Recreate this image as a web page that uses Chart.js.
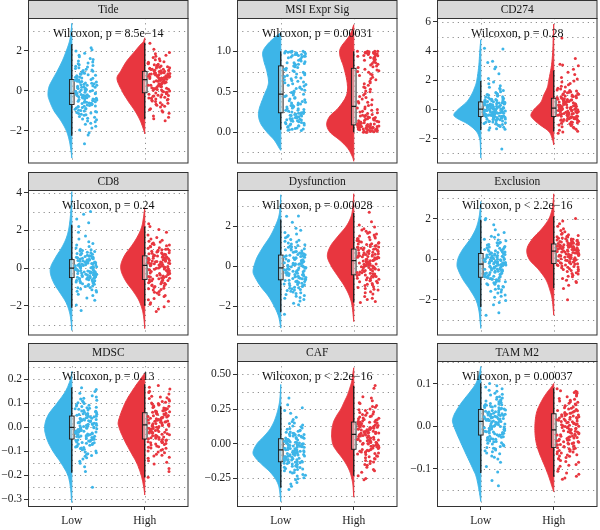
<!DOCTYPE html>
<html><head><meta charset="utf-8">
<script src="https://cdn.jsdelivr.net/npm/chart.js@4.4.1/dist/chart.umd.min.js"></script>
<style>
html,body{margin:0;padding:0;background:#fff;width:600px;height:530px;overflow:hidden;position:relative;}
canvas{position:absolute;}
</style></head><body>
<script>
// ---------------- DATA ----------------
const categories = ['Low', 'High'];
const panelTitles = ['Tide', 'MSI Expr Sig', 'CD274', 'CD8', 'Dysfunction', 'Exclusion', 'MDSC', 'CAF', 'TAM M2'];
const pTexts = ['Wilcoxon, p = 8.5e\u221214', 'Wilcoxon, p = 0.00031', 'Wilcoxon, p = 0.28',
  'Wilcoxon, p = 0.24', 'Wilcoxon, p = 0.00028', 'Wilcoxon, p < 2.2e\u221216',
  'Wilcoxon, p = 0.13', 'Wilcoxon, p < 2.2e\u221216', 'Wilcoxon, p = 0.00037'];
const yTickValues = [[-2, 0, 2], [0, 0.5, 1], [-2, 0, 2, 4, 6], [-2, 0, 2, 4], [-2, 0, 2], [-2, 0, 2],
  [-0.3, -0.2, -0.1, 0, 0.1, 0.2], [-0.25, 0, 0.25, 0.5], [-0.1, 0, 0.1]];
const yTickDecimals = [0, 1, 0, 0, 0, 0, 1, 2, 1];
const yLimits = [[-3.64, 3.64], [-0.388, 1.413], [-3.70, 6.27], [-3.57, 4.14], [-3.47, 3.82], [-3.76, 3.41],
  [-0.333, 0.277], [-0.456, 0.596], [-0.19, 0.153]];

// box stats: [lower whisker, Q1, median, Q3, upper whisker]
const boxLow = [[-2.25, -0.69, -0.13, 0.56, 2.33], [0.03, 0.24, 0.47, 0.82, 1.0], [-1.41, -0.48, 0.02, 0.52, 1.95],
  [-2.1, -0.5, 0.0, 0.45, 2.3], [-2.31, -0.68, -0.08, 0.56, 2.34], [-2.36, -0.89, -0.24, 0.28, 1.95],
  [-0.19, -0.049, 0.0, 0.047, 0.166], [-0.317, -0.13, -0.045, 0.036, 0.27], [-0.11, -0.021, 0.011, 0.039, 0.101]];
const boxHigh = [[-1.42, -0.10, 0.56, 0.97, 2.40], [0.0, 0.09, 0.32, 0.79, 1.0], [-1.5, -0.48, 0.09, 0.77, 2.67],
  [-2.0, -0.6, 0.15, 0.65, 2.2], [-1.82, -0.43, 0.28, 0.86, 2.67], [-1.43, -0.21, 0.40, 0.75, 2.11],
  [-0.21, -0.049, 0.01, 0.061, 0.18], [-0.23, -0.04, 0.068, 0.156, 0.417], [-0.119, -0.05, -0.009, 0.029, 0.089]];

// half-violin density profiles: [value, density]
const tideLowDens = [[-3.37,0],[-3,0.8],[-2.5,2.5],[-2,5.5],[-1.5,11],[-1,18],[-0.5,22.5],[-0.2,24],[0.2,23],[0.6,19],[1,14.5],[1.5,9.5],[2,5.5],[2.5,2.2],[3,0.7],[3.37,0]];
const tideHighDens = [[-2.16,0],[-2,0.8],[-1.5,4.5],[-1,10],[-0.5,17],[0,23],[0.6,28],[1,24],[1.5,18],[2,9.5],[2.3,4.5],[2.45,1.5],[2.65,0]];
const msiLowDens = [[-0.225,0],[-0.2,1.5],[-0.1,6.5],[0,14],[0.1,20],[0.2,22.5],[0.3,21.5],[0.45,17],[0.6,12.5],[0.75,14],[0.9,17.5],[1.0,18],[1.1,12.5],[1.2,3.5],[1.23,0]];
const msiHighDens = [[-0.36,0],[-0.3,1.5],[-0.2,6],[-0.1,14],[0,24],[0.1,27.3],[0.2,24],[0.3,15.5],[0.45,7.5],[0.6,6.5],[0.8,10],[0.95,14],[1.05,13],[1.2,4],[1.33,0]];
const cd274LowDens = [[-3.33,0],[-2.5,0.4],[-2,1.2],[-1.5,4.5],[-1,13],[-0.6,24],[-0.35,27.2],[0,23],[0.5,14.5],[1,9.5],[1.5,6.2],[2,4],[3,2],[4,1],[4.78,0]];
const cd274HighDens = [[-2.43,0],[-2,1.5],[-1.5,5],[-1,15],[-0.6,21.5],[-0.35,23],[0,20],[0.5,13],[1,10],[1.5,6.5],[2,5],[3,2.3],[4,1],[5,0.5],[5.85,0]];
const cd8LowDens = [[-3.3,0],[-2.8,0.8],[-2.3,2.5],[-1.8,6],[-1.3,12],[-0.8,18],[-0.3,21.5],[0.1,21],[0.6,16],[1.1,10],[1.6,5.5],[2.1,3],[2.7,1.5],[3.4,0.6],[4.05,0]];
const cd8HighDens = [[-3.2,0],[-2.7,0.8],[-2.2,2.5],[-1.7,6],[-1.2,12],[-0.7,19],[-0.2,23.5],[0.2,24],[0.7,20],[1.2,13],[1.7,7],[2.2,3],[2.7,1.2],[3.2,0]];
const dysLowDens = [[-3.1,0],[-2.5,2.3],[-2,6.7],[-1.5,12.5],[-1,20.5],[-0.5,26.5],[-0.25,28],[0.1,26.5],[0.5,23.4],[1,17.4],[1.5,10.7],[2,5.7],[2.5,2],[3,0.7],[3.58,0]];
const dysHighDens = [[-2.77,0],[-2,1.6],[-1.5,4.3],[-1,9.3],[-0.5,16],[0,22.6],[0.5,26.6],[1,23.6],[1.5,16],[2,7.6],[2.5,2.6],[3,0.9],[3.63,0]];
const exclLowDens = [[-3.41,0],[-3,0.8],[-2.5,2],[-2,5],[-1.5,11],[-1,18],[-0.5,23],[-0.25,24],[0.1,22.5],[0.5,18],[1,10.5],[1.5,5],[2,2],[2.5,0.6],[2.84,0]];
const exclHighDens = [[-2.76,0],[-2,1.5],[-1.5,4],[-1,8],[-0.5,15.5],[0,24.8],[0.5,27],[1,21.5],[1.5,12],[2,4.8],[2.5,1.5],[2.9,0.5],[3.22,0]];
const mdscLowDens = [[-0.314,0],[-0.3,0.4],[-0.25,1.4],[-0.2,4],[-0.15,10.7],[-0.1,19],[-0.05,25],[0,27.4],[0.05,24],[0.1,15],[0.15,6.4],[0.2,1.4],[0.233,0]];
const mdscHighDens = [[-0.283,0],[-0.25,1],[-0.2,3.6],[-0.15,8],[-0.1,14.6],[-0.05,21],[0,26],[0.03,26.3],[0.1,20],[0.15,13],[0.2,4.6],[0.226,0]];
const cafLowDens = [[-0.417,0],[-0.35,1],[-0.3,2.3],[-0.25,5.7],[-0.2,11.4],[-0.15,19],[-0.1,25.7],[-0.06,28],[0,24],[0.05,17.4],[0.1,11.4],[0.15,7.4],[0.2,4.7],[0.25,2.7],[0.3,1.3],[0.36,0.5],[0.427,0]];
const cafHighDens = [[-0.385,0],[-0.3,0.8],[-0.25,2],[-0.2,4],[-0.15,7.4],[-0.1,12],[-0.05,17.4],[0,21.3],[0.08,22.3],[0.15,20.7],[0.2,17.4],[0.25,13],[0.3,9.7],[0.35,6.4],[0.4,4],[0.45,2],[0.5,1],[0.547,0]];
const tamLowDens = [[-0.177,0],[-0.15,1.8],[-0.12,4.5],[-0.1,8],[-0.05,18],[0,27.2],[0.02,28],[0.05,21],[0.08,11],[0.1,5],[0.12,1.8],[0.14,0]];
const tamHighDens = [[-0.154,0],[-0.14,2],[-0.12,4.8],[-0.1,8],[-0.05,16.5],[-0.01,19],[0.03,17.5],[0.06,12],[0.08,6.5],[0.09,3],[0.1,0]];

// jittered observations
const tideLow = [-0.15,-0.17,-0.20,-0.22,-0.25,-0.27,-0.30,-0.33,-0.35,-0.38,-0.41,-0.44,-0.46,-0.50,-0.52,-0.55,-0.58,-0.61,-0.64,-0.68,-0.71,-0.74,-0.78,-0.81,-0.84,-0.89,-0.93,-0.97,-1.01,-1.06,-1.11,-1.17,-1.23,-1.29,-1.37,-1.45,-1.55,-1.67,-1.86,-2.21,
 -0.11,-0.08,-0.05,-0.02,0.01,0.04,0.08,0.11,0.15,0.18,0.22,0.25,0.28,0.32,0.35,0.39,0.42,0.46,0.50,0.54,0.58,0.62,0.67,0.71,0.75,0.80,0.85,0.90,0.95,1.01,1.07,1.15,1.22,1.30,1.39,1.49,1.61,1.77,1.99,2.15,-2.65,
 -0.14,-0.19,-0.24,-0.29,-0.31,-0.36,-0.40,-0.43,-0.48,-0.53,-0.57,-0.62,-0.66,-0.70,-0.76,-0.79,-0.86,-0.91,-0.99,-1.04,-1.09,-1.14,-1.20,-1.33,-1.41,-1.51,-1.62,-1.78,-1.97,-2.10,
 -0.09,-0.03,0.02,0.06,0.13,0.17,0.20,0.27,0.30,0.37,0.44,0.48,0.52,0.56,0.64,0.69,0.77,0.83,0.88,0.98,1.04,1.11,1.19,1.26,1.35,1.44,1.56,1.70,1.88,2.05];
const tideHigh = [0.54,0.51,0.48,0.45,0.42,0.39,0.35,0.32,0.30,0.27,0.23,0.20,0.17,0.13,0.10,0.06,0.03,-0.01,-0.05,-0.09,-0.13,-0.17,-0.20,-0.24,-0.28,-0.33,-0.38,-0.43,-0.48,-0.54,-0.60,-0.67,-0.73,-0.81,-0.90,-1.00,-1.12,-1.26,-1.40,-1.50,
 0.57,0.59,0.61,0.63,0.65,0.66,0.69,0.71,0.72,0.74,0.77,0.79,0.80,0.83,0.85,0.87,0.89,0.91,0.94,0.96,0.99,1.01,1.04,1.06,1.08,1.12,1.15,1.18,1.21,1.24,1.28,1.32,1.37,1.45,1.55,1.66,1.78,1.92,2.08,2.38,
 0.55,0.50,0.46,0.41,0.37,0.33,0.28,0.25,0.21,0.15,0.11,0.08,0.04,-0.03,-0.07,-0.11,-0.15,-0.22,-0.26,-0.31,-0.36,-0.41,-0.46,-0.51,-0.63,-0.70,-0.77,-0.95,-1.06,-1.33,
 0.58,0.60,0.62,0.64,0.68,0.70,0.73,0.75,0.78,0.82,0.84,0.86,0.88,0.90,0.93,0.97,1.00,1.03,1.07,1.10,1.14,1.20,1.26,1.30,1.35,1.42,1.50,1.60,1.72,1.85];
const msiLow = [1.0,1.0,0.99,0.99,0.98,0.98,0.97,0.97,0.96,0.95,0.94,0.93,0.92,0.90,0.89,0.87,0.86,0.85,0.84,0.83,
 0.81,0.79,0.77,0.76,0.74,0.72,0.70,0.68,0.67,0.65,0.63,0.61,0.60,0.58,0.56,0.55,0.53,0.51,0.50,0.48,
 0.46,0.45,0.43,0.42,0.40,0.39,0.37,0.36,0.35,0.34,0.33,0.32,0.31,0.30,0.29,0.28,0.27,0.26,0.25,0.245,
 0.23,0.22,0.21,0.20,0.19,0.18,0.17,0.16,0.15,0.14,0.13,0.12,0.11,0.10,0.09,0.08,0.07,0.05,0.04,0.03,
 1.0,0.99,0.98,0.97,0.96,0.96,0.95,0.94,0.93,0.91,0.88,0.86,0.84,0.82,0.80,0.78,0.75,0.73,0.71,0.69,0.66,0.64,0.62,0.59,0.57,0.54,0.52,0.49,
 0.47,0.44,0.41,0.38,0.36,0.33,0.31,0.29,0.27,0.25,0.24,0.235,0.225,0.215,0.205,0.195,0.185,0.175,0.165,0.155,0.145,0.135,0.12,0.105,0.09,0.075,0.06,0.045,0.035,0.025,0.02,0.995];
const msiHigh = [0.0,0.0,0.01,0.01,0.02,0.02,0.03,0.03,0.04,0.04,0.05,0.05,0.06,0.06,0.07,0.07,0.08,0.08,0.085,0.09,
 0.10,0.10,0.11,0.12,0.12,0.13,0.14,0.15,0.16,0.17,0.18,0.19,0.20,0.21,0.22,0.24,0.25,0.27,0.29,0.31,
 0.34,0.36,0.38,0.41,0.43,0.46,0.48,0.51,0.53,0.56,0.58,0.61,0.63,0.65,0.68,0.70,0.72,0.74,0.76,0.78,
 0.80,0.82,0.84,0.86,0.88,0.89,0.90,0.92,0.93,0.94,0.95,0.96,0.97,0.97,0.98,0.98,0.99,0.99,1.0,1.0,
 0.0,0.005,0.01,0.015,0.02,0.025,0.03,0.035,0.04,0.045,0.05,0.055,0.06,0.065,0.07,0.075,0.08,0.09,
 0.095,0.105,0.115,0.125,0.135,0.145,0.155,0.165,0.18,0.195,0.21,0.23,0.26,0.28,0.30,
 0.33,0.37,0.40,0.44,0.50,0.55,0.60,0.66,0.71,0.75,0.77,
 0.81,0.83,0.85,0.87,0.91,0.925,0.945,0.955,0.965,0.975,0.985,0.99,0.995,1.0,1.0,0.98];
const cd274Low = [0.01,-0.02,-0.04,-0.06,-0.08,-0.11,-0.14,-0.16,-0.18,-0.20,-0.23,-0.25,-0.28,-0.31,-0.33,-0.36,-0.38,-0.41,-0.44,-0.47,-0.50,-0.53,-0.56,-0.59,-0.62,-0.65,-0.69,-0.73,-0.76,-0.81,-0.85,-0.91,-0.96,-1.02,-1.08,-1.16,-1.25,-1.32,-1.40,-2.70,
 0.05,0.08,0.10,0.12,0.14,0.17,0.20,0.22,0.24,0.26,0.29,0.31,0.34,0.37,0.39,0.42,0.44,0.47,0.50,0.53,0.56,0.59,0.62,0.65,0.68,0.72,0.77,0.82,0.88,0.95,1.02,1.12,1.22,1.37,1.52,1.77,2.12,2.92,3.22,4.15,4.2,
 0.0,-0.03,-0.07,-0.10,-0.13,-0.15,-0.19,-0.22,-0.26,-0.29,-0.32,-0.35,-0.39,-0.42,-0.45,-0.48,-0.52,-0.55,-0.58,-0.63,-0.67,-0.71,-0.78,-0.83,-0.88,-0.94,-1.00,-1.12,-1.21,-1.35,
 0.04,0.07,0.11,0.15,0.19,0.23,0.27,0.30,0.33,0.38,0.41,0.46,0.51,0.55,0.60,0.66,0.70,0.75,0.85,0.92,0.99,1.07,1.17,1.30,1.45,1.62,1.88,2.45,2.8,3.3];
const cd274High = [0.07,0.05,0.02,0.0,-0.03,-0.05,-0.09,-0.11,-0.14,-0.17,-0.20,-0.22,-0.25,-0.28,-0.31,-0.34,-0.37,-0.40,-0.44,-0.47,-0.51,-0.54,-0.57,-0.61,-0.64,-0.68,-0.73,-0.77,-0.81,-0.86,-0.91,-0.97,-1.03,-1.10,-1.18,-1.26,-1.36,-1.49,-1.55,-1.62,
 0.11,0.14,0.17,0.20,0.23,0.26,0.30,0.33,0.36,0.39,0.43,0.46,0.49,0.53,0.56,0.60,0.63,0.67,0.71,0.75,0.79,0.83,0.87,0.91,0.95,1.00,1.05,1.10,1.15,1.21,1.27,1.34,1.41,1.54,1.69,1.89,2.09,2.39,2.99,3.49,4.9,
 0.08,0.04,0.01,-0.02,-0.06,-0.10,-0.13,-0.16,-0.19,-0.24,-0.27,-0.30,-0.35,-0.39,-0.42,-0.46,-0.49,-0.53,-0.56,-0.60,-0.63,-0.66,-0.70,-0.75,-0.80,-0.88,-0.95,-1.06,-1.22,-1.42,
 0.12,0.16,0.22,0.25,0.29,0.35,0.41,0.45,0.51,0.55,0.62,0.69,0.73,0.81,0.89,0.93,1.02,1.08,1.18,1.24,1.31,1.45,1.60,1.78,1.95,2.2,2.55,2.75,3.05,3.1];
const cd8Low = [-0.01,-0.04,-0.06,-0.08,-0.10,-0.13,-0.16,-0.18,-0.20,-0.22,-0.25,-0.27,-0.30,-0.33,-0.35,-0.38,-0.40,-0.43,-0.46,-0.49,-0.52,-0.55,-0.58,-0.61,-0.64,-0.67,-0.71,-0.75,-0.78,-0.83,-0.87,-0.93,-0.98,-1.04,-1.10,-1.18,-1.27,-1.38,-1.70,-2.25,
 0.01,0.03,0.05,0.07,0.09,0.11,0.14,0.16,0.18,0.20,0.23,0.25,0.27,0.29,0.31,0.34,0.36,0.39,0.42,0.44,0.47,0.50,0.52,0.55,0.58,0.61,0.64,0.68,0.71,0.75,0.79,0.84,0.88,0.94,1.00,1.15,1.30,1.70,2.20,2.60,3.0,
 -0.02,-0.05,-0.09,-0.12,-0.15,-0.19,-0.23,-0.26,-0.29,-0.32,-0.36,-0.39,-0.42,-0.45,-0.48,-0.51,-0.54,-0.57,-0.63,-0.69,-0.73,-0.80,-0.85,-0.95,-1.02,-1.14,-1.23,-1.45,-1.58,-1.95,
 0.02,0.04,0.08,0.12,0.15,0.19,0.22,0.26,0.30,0.33,0.37,0.41,0.45,0.49,0.54,0.57,0.63,0.66,0.73,0.77,0.82,0.91,0.97,1.07,1.22,1.40,1.55,1.90,2.40,2.85];
const cd8High = [0.13,0.09,0.06,0.03,-0.01,-0.04,-0.08,-0.12,-0.15,-0.18,-0.23,-0.26,-0.29,-0.34,-0.37,-0.42,-0.45,-0.49,-0.54,-0.58,-0.63,-0.67,-0.72,-0.76,-0.80,-0.86,-0.92,-0.97,-1.03,-1.09,-1.16,-1.24,-1.32,-1.40,-1.50,-1.61,-1.75,-1.91,-2.16,-2.30,
 0.16,0.19,0.21,0.23,0.25,0.28,0.31,0.33,0.35,0.37,0.40,0.42,0.45,0.48,0.50,0.53,0.55,0.58,0.61,0.64,0.67,0.70,0.73,0.76,0.79,0.82,0.86,0.90,0.93,0.98,1.02,1.08,1.13,1.19,1.25,1.33,1.42,1.55,1.75,2.05,2.35,
 0.11,0.07,0.01,-0.03,-0.06,-0.10,-0.14,-0.20,-0.24,-0.28,-0.32,-0.39,-0.44,-0.47,-0.52,-0.56,-0.61,-0.65,-0.70,-0.78,-0.83,-0.89,-0.95,-1.06,-1.13,-1.28,-1.45,-1.68,-1.84,-2.05,
 0.17,0.20,0.24,0.27,0.30,0.34,0.38,0.41,0.44,0.47,0.52,0.57,0.60,0.63,0.69,0.72,0.78,0.81,0.88,0.95,1.00,1.05,1.16,1.22,1.29,1.38,1.48,1.62,1.90,2.20];
const dysLow = [-0.10,-0.12,-0.15,-0.18,-0.20,-0.23,-0.27,-0.29,-0.32,-0.35,-0.38,-0.41,-0.44,-0.47,-0.50,-0.53,-0.56,-0.60,-0.63,-0.67,-0.70,-0.74,-0.77,-0.81,-0.85,-0.89,-0.93,-0.98,-1.02,-1.08,-1.13,-1.19,-1.25,-1.33,-1.41,-1.50,-1.60,-1.74,-1.93,-2.40,
 -0.06,-0.03,0.0,0.02,0.05,0.08,0.12,0.15,0.18,0.21,0.24,0.27,0.30,0.34,0.37,0.40,0.43,0.47,0.51,0.55,0.59,0.62,0.66,0.70,0.74,0.78,0.83,0.88,0.93,0.98,1.04,1.11,1.17,1.25,1.34,1.43,1.54,1.69,1.90,2.20,2.50,2.52,
 -0.09,-0.14,-0.17,-0.22,-0.25,-0.31,-0.34,-0.40,-0.43,-0.49,-0.52,-0.58,-0.62,-0.65,-0.72,-0.76,-0.83,-0.87,-0.91,-0.96,-1.05,-1.10,-1.16,-1.22,-1.29,-1.37,-1.46,-1.56,-1.67,-1.85,
 -0.04,-0.01,0.04,0.07,0.10,0.13,0.17,0.20,0.26,0.29,0.32,0.36,0.42,0.45,0.49,0.53,0.57,0.64,0.68,0.72,0.81,0.86,0.95,1.01,1.08,1.21,1.30,1.48,1.62,1.80];
const dysHigh = [0.26,0.23,0.20,0.16,0.13,0.10,0.06,0.03,0.0,-0.04,-0.08,-0.11,-0.14,-0.18,-0.21,-0.26,-0.29,-0.33,-0.37,-0.41,-0.46,-0.50,-0.54,-0.58,-0.62,-0.68,-0.73,-0.78,-0.83,-0.90,-0.96,-1.03,-1.11,-1.19,-1.28,-1.39,-1.52,-1.67,-1.77,-1.82,
 0.30,0.32,0.35,0.37,0.40,0.43,0.46,0.49,0.51,0.54,0.57,0.60,0.62,0.66,0.68,0.72,0.74,0.78,0.81,0.85,0.88,0.92,0.95,0.99,1.02,1.06,1.11,1.15,1.19,1.24,1.29,1.36,1.42,1.48,1.56,1.65,1.75,1.88,2.07,2.23,2.7,
 0.27,0.22,0.18,0.15,0.11,0.08,0.05,0.01,-0.02,-0.06,-0.10,-0.16,-0.20,-0.24,-0.31,-0.35,-0.39,-0.44,-0.48,-0.52,-0.60,-0.65,-0.70,-0.75,-0.86,-0.93,-1.07,-1.15,-1.33,-1.60,
 0.29,0.34,0.39,0.42,0.45,0.48,0.53,0.56,0.59,0.64,0.70,0.76,0.80,0.83,0.90,0.94,0.97,1.04,1.09,1.13,1.22,1.27,1.33,1.39,1.45,1.52,1.61,1.70,1.82,1.97];
const exclLow = [-0.26,-0.29,-0.32,-0.35,-0.37,-0.40,-0.44,-0.47,-0.50,-0.53,-0.57,-0.60,-0.62,-0.66,-0.69,-0.73,-0.76,-0.80,-0.84,-0.87,-0.91,-0.95,-0.99,-1.03,-1.07,-1.11,-1.16,-1.21,-1.26,-1.32,-1.37,-1.44,-1.51,-1.58,-1.67,-1.77,-1.88,-2.03,-2.24,-2.64,-2.76,
 -0.22,-0.20,-0.18,-0.16,-0.13,-0.11,-0.08,-0.06,-0.03,-0.01,0.02,0.04,0.07,0.10,0.12,0.15,0.18,0.21,0.24,0.27,0.30,0.33,0.36,0.39,0.42,0.46,0.50,0.54,0.58,0.62,0.67,0.72,0.78,0.84,0.91,0.98,1.08,1.20,1.45,1.70,1.95,2.0,
 -0.25,-0.28,-0.31,-0.34,-0.39,-0.42,-0.45,-0.49,-0.52,-0.55,-0.59,-0.64,-0.68,-0.71,-0.75,-0.78,-0.82,-0.86,-0.89,-0.93,-0.97,-1.01,-1.05,-1.14,-1.24,-1.35,-1.48,-1.62,-1.83,-2.13,
 -0.23,-0.21,-0.19,-0.17,-0.14,-0.12,-0.10,-0.07,-0.04,0.0,0.03,0.06,0.09,0.13,0.17,0.20,0.23,0.26,0.31,0.35,0.41,0.44,0.48,0.56,0.60,0.70,0.81,0.95,1.13,1.32];
const exclHigh = [0.38,0.35,0.33,0.30,0.27,0.25,0.21,0.18,0.16,0.13,0.09,0.07,0.04,0.0,-0.03,-0.06,-0.09,-0.12,-0.16,-0.20,-0.23,-0.27,-0.31,-0.34,-0.38,-0.42,-0.47,-0.51,-0.56,-0.61,-0.67,-0.73,-0.79,-0.87,-0.95,-1.04,-1.15,-1.28,-1.45,-2.0,
 0.41,0.43,0.44,0.46,0.47,0.49,0.51,0.52,0.54,0.56,0.58,0.59,0.61,0.63,0.64,0.67,0.68,0.70,0.72,0.74,0.76,0.78,0.81,0.83,0.85,0.87,0.90,0.93,0.95,0.98,1.01,1.05,1.09,1.13,1.17,1.23,1.35,1.50,1.75,2.0,
 0.39,0.36,0.34,0.31,0.28,0.26,0.23,0.20,0.17,0.14,0.11,0.08,0.05,0.02,-0.01,-0.05,-0.08,-0.11,-0.14,-0.18,-0.22,-0.25,-0.29,-0.36,-0.40,-0.49,-0.58,-0.70,-0.84,-1.10,
 0.42,0.45,0.48,0.50,0.53,0.55,0.57,0.60,0.62,0.65,0.66,0.69,0.71,0.73,0.75,0.77,0.80,0.82,0.86,0.89,0.92,0.96,1.00,1.03,1.11,1.20,1.28,1.42,1.62,1.88];
const mdscLow = [-0.001,-0.004,-0.006,-0.008,-0.010,-0.012,-0.015,-0.017,-0.019,-0.021,-0.024,-0.026,-0.028,-0.031,-0.033,-0.036,-0.038,-0.041,-0.044,-0.047,-0.050,-0.053,-0.055,-0.058,-0.061,-0.065,-0.068,-0.072,-0.075,-0.080,-0.084,-0.089,-0.094,-0.099,-0.106,-0.113,-0.121,-0.132,-0.150,-0.185,-0.25,
 0.001,0.004,0.006,0.008,0.010,0.012,0.015,0.017,0.019,0.021,0.024,0.026,0.028,0.031,0.033,0.036,0.038,0.041,0.044,0.047,0.050,0.053,0.055,0.058,0.061,0.065,0.068,0.072,0.075,0.080,0.084,0.089,0.094,0.099,0.106,0.113,0.121,0.132,0.150,0.165,
 -0.002,-0.005,-0.009,-0.013,-0.016,-0.020,-0.023,-0.027,-0.030,-0.034,-0.037,-0.040,-0.043,-0.046,-0.051,-0.054,-0.057,-0.063,-0.067,-0.070,-0.077,-0.082,-0.087,-0.092,-0.103,-0.110,-0.118,-0.127,-0.142,-0.165,
 0.003,0.005,0.009,0.013,0.016,0.020,0.023,0.027,0.030,0.034,0.037,0.040,0.043,0.046,0.051,0.054,0.057,0.063,0.067,0.070,0.077,0.082,0.087,0.092,0.103,0.110,0.118,0.127,0.142,0.158];
const mdscHigh = [0.008,0.006,0.003,0.0,-0.002,-0.005,-0.008,-0.011,-0.014,-0.016,-0.020,-0.022,-0.025,-0.029,-0.031,-0.035,-0.037,-0.041,-0.044,-0.048,-0.051,-0.055,-0.058,-0.062,-0.065,-0.070,-0.074,-0.078,-0.083,-0.088,-0.093,-0.099,-0.106,-0.113,-0.120,-0.129,-0.140,-0.153,-0.172,-0.209,
 0.012,0.014,0.016,0.018,0.021,0.023,0.026,0.028,0.030,0.033,0.036,0.038,0.040,0.043,0.046,0.049,0.051,0.054,0.057,0.060,0.063,0.066,0.069,0.072,0.075,0.079,0.083,0.086,0.090,0.095,0.099,0.105,0.110,0.116,0.123,0.130,0.139,0.151,0.167,0.175,
 0.009,0.004,0.001,-0.004,-0.007,-0.010,-0.013,-0.018,-0.021,-0.024,-0.027,-0.033,-0.036,-0.039,-0.043,-0.046,-0.050,-0.053,-0.060,-0.064,-0.068,-0.072,-0.081,-0.086,-0.096,-0.103,-0.117,-0.125,-0.146,-0.185,
 0.011,0.015,0.019,0.022,0.025,0.029,0.031,0.035,0.039,0.042,0.045,0.048,0.053,0.056,0.059,0.062,0.065,0.068,0.071,0.077,0.081,0.088,0.093,0.097,0.102,0.108,0.120,0.127,0.145,0.160];
const cafLow = [-0.048,-0.051,-0.055,-0.059,-0.063,-0.066,-0.071,-0.075,-0.079,-0.083,-0.088,-0.092,-0.095,-0.100,-0.104,-0.109,-0.113,-0.118,-0.123,-0.128,-0.133,-0.138,-0.143,-0.148,-0.153,-0.160,-0.166,-0.172,-0.179,-0.186,-0.194,-0.203,-0.211,-0.221,-0.233,-0.245,-0.260,-0.279,-0.307,-0.330,
 -0.043,-0.039,-0.035,-0.032,-0.028,-0.025,-0.020,-0.016,-0.013,-0.009,-0.004,-0.001,0.003,0.008,0.011,0.016,0.020,0.025,0.029,0.034,0.039,0.044,0.049,0.053,0.058,0.064,0.070,0.076,0.082,0.089,0.097,0.105,0.113,0.123,0.134,0.146,0.160,0.19,0.22,0.26,0.28,0.33,
 -0.046,-0.053,-0.057,-0.061,-0.068,-0.073,-0.077,-0.081,-0.086,-0.090,-0.097,-0.102,-0.107,-0.111,-0.116,-0.121,-0.126,-0.131,-0.136,-0.141,-0.146,-0.156,-0.163,-0.169,-0.183,-0.190,-0.207,-0.227,-0.252,-0.290,
 -0.041,-0.037,-0.030,-0.026,-0.022,-0.018,-0.011,-0.007,-0.002,0.001,0.006,0.013,0.018,0.022,0.027,0.031,0.037,0.042,0.047,0.055,0.061,0.067,0.073,0.085,0.093,0.109,0.128,0.150,0.175,0.24];
const cafHigh = [0.065,0.060,0.055,0.050,0.046,0.041,0.034,0.030,0.025,0.020,0.014,0.009,0.004,-0.002,-0.007,-0.014,-0.018,-0.025,-0.031,-0.038,-0.044,-0.050,-0.057,-0.063,-0.070,-0.078,-0.086,-0.094,-0.102,-0.111,-0.121,-0.132,-0.143,-0.156,-0.170,-0.186,-0.206,-0.230,-0.250,-0.260,
 0.071,0.075,0.078,0.082,0.086,0.090,0.095,0.099,0.103,0.107,0.112,0.116,0.120,0.125,0.129,0.134,0.138,0.143,0.149,0.154,0.159,0.164,0.169,0.175,0.180,0.186,0.193,0.199,0.206,0.214,0.221,0.231,0.240,0.250,0.262,0.275,0.290,0.310,0.338,0.40,0.42,
 0.067,0.062,0.057,0.052,0.044,0.038,0.032,0.027,0.022,0.017,0.011,0.006,0.001,-0.004,-0.010,-0.016,-0.022,-0.028,-0.035,-0.041,-0.047,-0.054,-0.060,-0.067,-0.074,-0.090,-0.106,-0.126,-0.150,-0.195,
 0.073,0.077,0.080,0.084,0.088,0.093,0.097,0.101,0.105,0.110,0.114,0.118,0.122,0.127,0.131,0.136,0.141,0.146,0.151,0.157,0.162,0.172,0.183,0.196,0.210,0.225,0.245,0.268,0.295,0.33];
const tamLow = [0.010,0.009,0.007,0.006,0.004,0.003,0.001,0.0,-0.002,-0.003,-0.005,-0.007,-0.008,-0.010,-0.011,-0.013,-0.015,-0.017,-0.018,-0.020,-0.022,-0.024,-0.026,-0.028,-0.030,-0.032,-0.035,-0.037,-0.039,-0.042,-0.045,-0.048,-0.052,-0.056,-0.060,-0.065,-0.070,-0.077,-0.095,-0.108,-0.128,-0.14,
 0.012,0.013,0.014,0.016,0.017,0.018,0.020,0.021,0.022,0.023,0.025,0.026,0.028,0.029,0.031,0.032,0.033,0.035,0.037,0.038,0.040,0.042,0.043,0.045,0.047,0.049,0.051,0.053,0.055,0.057,0.060,0.063,0.066,0.069,0.073,0.077,0.082,0.088,0.095,0.100,
 0.011,0.008,0.005,0.002,0.0,-0.001,-0.004,-0.006,-0.009,-0.012,-0.014,-0.016,-0.019,-0.021,-0.023,-0.025,-0.027,-0.029,-0.031,-0.033,-0.036,-0.040,-0.043,-0.046,-0.050,-0.054,-0.058,-0.063,-0.073,-0.085,
 0.012,0.014,0.015,0.017,0.018,0.019,0.021,0.022,0.024,0.025,0.027,0.028,0.030,0.032,0.034,0.036,0.039,0.041,0.044,0.046,0.048,0.050,0.052,0.056,0.059,0.062,0.068,0.075,0.084,0.092];
const tamHigh = [-0.010,-0.012,-0.014,-0.016,-0.018,-0.019,-0.022,-0.024,-0.025,-0.027,-0.030,-0.032,-0.033,-0.036,-0.038,-0.040,-0.042,-0.044,-0.047,-0.049,-0.052,-0.054,-0.057,-0.059,-0.061,-0.065,-0.068,-0.071,-0.074,-0.077,-0.081,-0.085,-0.090,-0.094,-0.100,-0.106,-0.113,-0.118,-0.122,-0.125,
 -0.008,-0.006,-0.005,-0.003,-0.001,0.001,0.003,0.004,0.006,0.008,0.010,0.012,0.013,0.016,0.017,0.020,0.021,0.023,0.026,0.028,0.030,0.032,0.035,0.037,0.039,0.042,0.045,0.048,0.050,0.054,0.057,0.061,0.065,0.069,0.074,0.077,0.079,0.080,0.083,0.088,
 -0.011,-0.013,-0.015,-0.017,-0.020,-0.021,-0.023,-0.026,-0.028,-0.029,-0.031,-0.034,-0.035,-0.037,-0.039,-0.041,-0.043,-0.046,-0.048,-0.051,-0.053,-0.056,-0.060,-0.063,-0.067,-0.070,-0.076,-0.083,-0.092,-0.110,
 -0.007,-0.004,-0.002,0.0,0.002,0.005,0.007,0.009,0.011,0.014,0.015,0.018,0.019,0.022,0.024,0.025,0.027,0.029,0.031,0.033,0.036,0.040,0.043,0.047,0.052,0.056,0.059,0.063,0.071,0.082];

const pointSets = [[tideLow, tideHigh], [msiLow, msiHigh], [cd274Low, cd274High], [cd8Low, cd8High], [dysLow, dysHigh],
  [exclLow, exclHigh], [mdscLow, mdscHigh], [cafLow, cafHigh], [tamLow, tamHigh]];
const densSets = [[tideLowDens, tideHighDens], [msiLowDens, msiHighDens], [cd274LowDens, cd274HighDens], [cd8LowDens, cd8HighDens],
  [dysLowDens, dysHighDens], [exclLowDens, exclHighDens], [mdscLowDens, mdscHighDens], [cafLowDens, cafHighDens], [tamLowDens, tamHighDens]];

// ---------------- STYLE / LAYOUT ----------------
const COLORS = ['#3db5e8', '#e8363f'];
const FONT = "'Liberation Serif', 'DejaVu Serif', serif";
const colCanvasLeft = [0, 197, 397], axisW = [28, 40, 40], plotW = 162;
const rowTop = [0, 172, 343], stripH = 18, plotH = [147, 147, 146], xAxisH = [0, 0, 24];
const DENS_PX_PER_UNIT = 73.64;

function jitter(i, g) {
  const s = Math.sin((i + 1) * 12.9898 + g * 78.233) * 43758.5453;
  return s - Math.floor(s);
}
function smoothProfile(pts, n) {
  const out = [];
  for (let i = 0; i < pts.length - 1; i++) {
    const p0 = pts[Math.max(i - 1, 0)], p1 = pts[i], p2 = pts[i + 1], p3 = pts[Math.min(i + 2, pts.length - 1)];
    for (let s = 0; s < n; s++) {
      const t = s / n, t2 = t * t, t3 = t2 * t;
      const f = (a, b, c, d) => 0.5 * ((2 * b) + (-a + c) * t + (2 * a - 5 * b + 4 * c - d) * t2 + (-a + 3 * b - 3 * c + d) * t3);
      out.push([f(p0[0], p1[0], p2[0], p3[0]), Math.max(0, f(p0[1], p1[1], p2[1], p3[1]))]);
    }
  }
  out.push(pts[pts.length - 1]);
  return out;
}
function fmtTick(v, d) {
  return (v < -1e-9 ? '\u2212' : '') + Math.abs(v).toFixed(d);
}

function makePlugin(p) {
  return {
    id: 'rain' + p,
    beforeDatasetsDraw(chart) {
      const {ctx, chartArea: a, scales: {x, y}} = chart;
      const lim = yLimits[p], majors = yTickValues[p];
      const step = majors[1] - majors[0];
      ctx.save();
      ctx.strokeStyle = '#8f8f8f'; ctx.lineWidth = 1; ctx.setLineDash([1.2, 4]);
      const gridVals = [];
      for (let v = majors[0] - step * Math.ceil((majors[0] - lim[0]) / step + 0.5) + step / 2; v < lim[1]; v += step / 2) {
        if (v > lim[0]) gridVals.push(v);
      }
      gridVals.forEach(v => {
        const py = Math.round(y.getPixelForValue(v)) + 0.5;
        ctx.beginPath(); ctx.moveTo(a.left, py); ctx.lineTo(a.right, py); ctx.stroke();
      });
      [1, 2].forEach(v => {
        const px = Math.round(x.getPixelForValue(v)) + 0.5;
        ctx.beginPath(); ctx.moveTo(px, a.top); ctx.lineTo(px, a.bottom); ctx.stroke();
      });
      ctx.restore();
      ctx.save();
      ctx.beginPath(); ctx.rect(a.left, a.top, a.right - a.left, a.bottom - a.top); ctx.clip();
      const k = (x.getPixelForValue(1) - x.getPixelForValue(0)) / DENS_PX_PER_UNIT;
      densSets[p].forEach((prof, g) => {
        const cx = x.getPixelForValue(g + 1);
        const sm = smoothProfile(prof, 10);
        ctx.beginPath();
        sm.forEach(([v, w], j) => {
          const px = cx - w * k, py = y.getPixelForValue(v);
          if (j) ctx.lineTo(px, py); else ctx.moveTo(px, py);
        });
        ctx.closePath();
        ctx.fillStyle = COLORS[g]; ctx.fill();
        ctx.strokeStyle = COLORS[g]; ctx.lineWidth = 1; ctx.stroke();
      });
      [boxLow[p], boxHigh[p]].forEach((b, g) => {
        const cx = x.getPixelForValue(g + 1);
        const bl = x.getPixelForValue(g + 1 - 0.032), br = x.getPixelForValue(g + 1 + 0.032);
        const [wl, q1, md, q3, wh] = b.map(v => y.getPixelForValue(v));
        ctx.strokeStyle = '#1a1a1a'; ctx.lineWidth = 1.3;
        ctx.beginPath(); ctx.moveTo(cx, wl); ctx.lineTo(cx, q1); ctx.moveTo(cx, q3); ctx.lineTo(cx, wh); ctx.stroke();
        ctx.fillStyle = 'rgba(205,205,205,0.55)';
        ctx.fillRect(bl, q3, br - bl, q1 - q3);
        ctx.lineWidth = 0.9; ctx.strokeRect(bl, q3, br - bl, q1 - q3);
        ctx.lineWidth = 1.3;
        ctx.beginPath(); ctx.moveTo(bl, md); ctx.lineTo(br, md); ctx.stroke();
      });
      ctx.restore();
    },
    afterDatasetsDraw(chart) {
      const {ctx, chartArea: a} = chart;
      ctx.save();
      ctx.fillStyle = '#111'; ctx.font = '12px ' + FONT;
      ctx.textAlign = 'center'; ctx.textBaseline = 'middle';
      ctx.fillText(pTexts[p], (a.left + a.right) / 2, a.top + 16);
      ctx.strokeStyle = '#333'; ctx.lineWidth = 1;
      ctx.strokeRect(a.left + 0.5, a.top + 0.5, a.right - a.left - 1, a.bottom - a.top - 1);
      ctx.fillStyle = '#d9d9d9';
      ctx.fillRect(a.left + 0.5, 0.5, a.right - a.left - 1, a.top);
      ctx.strokeRect(a.left + 0.5, 0.5, a.right - a.left - 1, a.top);
      ctx.fillStyle = '#1a1a1a'; ctx.font = '11.5px ' + FONT;
      ctx.fillText(panelTitles[p], (a.left + a.right) / 2, a.top / 2 + 1);
      ctx.restore();
    }
  };
}

for (let p = 0; p < 9; p++) {
  const r = Math.floor(p / 3), c = p % 3;
  const bottomRow = r === 2;
  const cv = document.createElement('canvas');
  cv.width = axisW[c] + plotW;
  cv.height = stripH + plotH[r] + xAxisH[r];
  cv.style.left = colCanvasLeft[c] + 'px';
  cv.style.top = rowTop[r] + 'px';
  cv.style.width = cv.width + 'px';
  cv.style.height = cv.height + 'px';
  document.body.appendChild(cv);

  const datasets = pointSets[p].map((vals, g) => ({
    data: vals.map((v, i) => ({x: g + 1 + 0.045 + jitter(i, g + p * 2) * 0.30, y: v})),
    backgroundColor: COLORS[g], borderColor: COLORS[g],
    pointRadius: 1.5, pointBorderWidth: 0, pointHoverRadius: 0
  }));

  new Chart(cv, {
    type: 'scatter',
    data: {datasets},
    options: {
      responsive: false, animation: false, devicePixelRatio: 1,
      layout: {padding: {top: stripH, left: 0, right: 0, bottom: 0}},
      plugins: {legend: {display: false}, tooltip: {enabled: false}, title: {display: false}},
      events: [],
      scales: {
        x: {
          type: 'linear', min: 0.4, max: 2.6,
          afterBuildTicks: s => { s.ticks = [{value: 1}, {value: 2}]; },
          afterFit: s => { s.height = xAxisH[r]; s.paddingLeft = 0; s.paddingRight = 0; },
          ticks: {display: bottomRow, autoSkip: false, maxRotation: 0, padding: 4, color: '#222',
            font: {family: FONT, size: 11.5}, callback: v => categories[Math.round(v) - 1]},
          grid: {display: bottomRow, drawOnChartArea: false, drawTicks: true, tickLength: 3, color: '#333'},
          border: {display: false}
        },
        y: {
          type: 'linear', min: yLimits[p][0], max: yLimits[p][1],
          afterBuildTicks: s => { s.ticks = yTickValues[p].map(v => ({value: v})); },
          afterFit: s => { s.width = axisW[c]; s.paddingTop = 0; s.paddingBottom = 0; },
          ticks: {autoSkip: false, padding: 2, color: '#222', font: {family: FONT, size: 11.5},
            callback: v => fmtTick(v, yTickDecimals[p])},
          grid: {drawOnChartArea: false, drawTicks: true, tickLength: 4, color: '#333'},
          border: {display: false}
        }
      }
    },
    plugins: [makePlugin(p)]
  });
}
</script>
</body></html>
